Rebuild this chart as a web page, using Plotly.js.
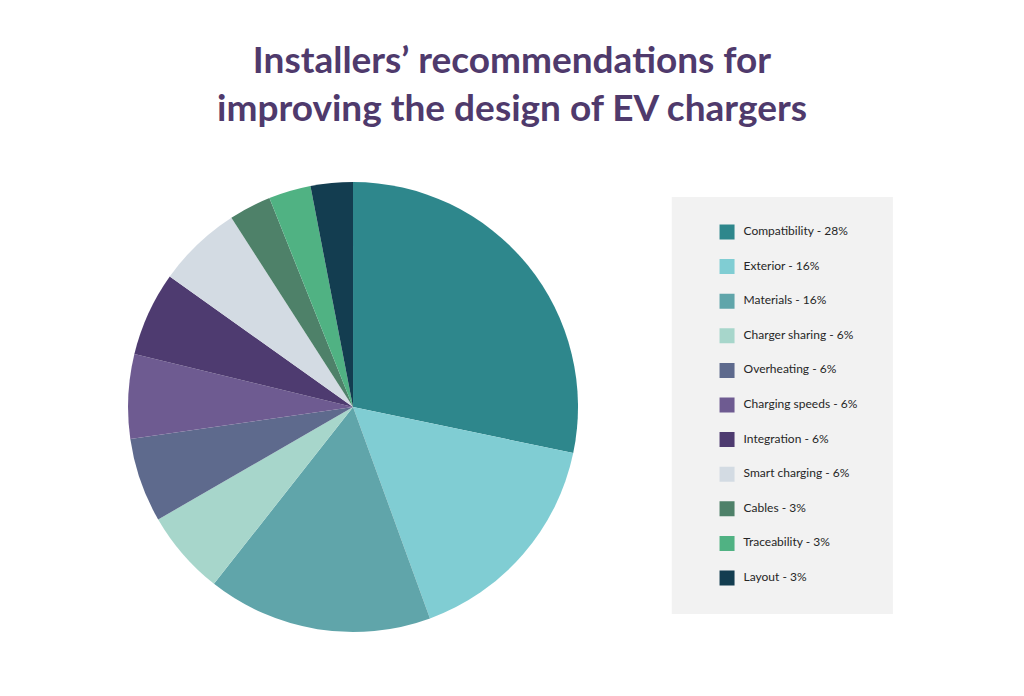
<!DOCTYPE html>
<html>
<head>
<meta charset="utf-8">
<script src="https://cdn.plot.ly/plotly-3.0.1.min.js"></script>
<style>
  html, body { margin: 0; padding: 0; background: #ffffff; }
  #chart { width: 1024px; height: 696px; }
</style>
</head>
<body>
<div id="chart"></div>
<script>
// categories and their shares (%), clockwise from 12 o'clock
const categories = [
  "Compatibility", "Exterior", "Materials", "Charger sharing", "Overheating",
  "Charging speeds", "Integration", "Smart charging", "Cables", "Traceability", "Layout",
];
const shares = [28, 16, 16, 6, 6, 6, 6, 6, 3, 3, 3];
const colors = [
  "#2e878c", "#80cdd3", "#60a5aa", "#a7d6cb", "#5e6a8d", "#6e5b91",
  "#4e3b70", "#d3dbe3", "#4e8169", "#50b283", "#133d50",
];
const legendLabels = categories.map((c, i) => `${c} - ${shares[i]}%`);

const pie = {
  type: "pie",
  labels: categories,
  values: shares,
  sort: false,
  direction: "clockwise",
  rotation: 0,
  marker: { colors: colors, line: { width: 0 } },
  textinfo: "none",
  hoverinfo: "label+percent",
  showlegend: false,
  domain: { x: [0.125, 0.5645], y: [0.092, 0.7385] },
};

// the key drawn as squares + labels on its own hidden axes
const key = {
  type: "scatter",
  mode: "markers+text",
  x: categories.map(() => 0),
  y: legendLabels,
  text: legendLabels.map((t) => "\u00a0\u00a0" + t),
  textposition: "middle right",
  textfont: { family: "Lato, sans-serif", size: 12, color: "#262626" },
  marker: { symbol: "square", size: 15, color: colors },
  hoverinfo: "skip",
  showlegend: false,
  xaxis: "x",
  yaxis: "y",
};

const layout = {
  width: 1024,
  height: 696,
  margin: { t: 0, b: 0, l: 0, r: 0 },
  paper_bgcolor: "#ffffff",
  plot_bgcolor: "rgba(0,0,0,0)",
  title: {
    text: "Installers’ recommendations for<br>improving the design of EV chargers",
    font: { family: "Lato, sans-serif", size: 37, color: "#4f3a6c", weight: 700 },
    x: 0.5,
    xanchor: "center",
    y: 0.895,
    yref: "container",
    yanchor: "middle",
  },
  xaxis: {
    domain: [0.69, 0.87],
    range: [-1, 8],
    visible: false,
    fixedrange: true,
  },
  yaxis: {
    domain: [0.1447, 0.6915],
    type: "category",
    range: [10.5, -0.5],
    visible: false,
    fixedrange: true,
  },
  shapes: [
    {
      type: "rect",
      xref: "paper",
      yref: "paper",
      x0: 0.656,
      x1: 0.872,
      y0: 0.1178,
      y1: 0.717,
      fillcolor: "#f2f2f2",
      line: { width: 0 },
      layer: "below",
    },
  ],
};

Plotly.newPlot("chart", [pie, key], layout, { displayModeBar: false, staticPlot: true });
</script>
</body>
</html>
